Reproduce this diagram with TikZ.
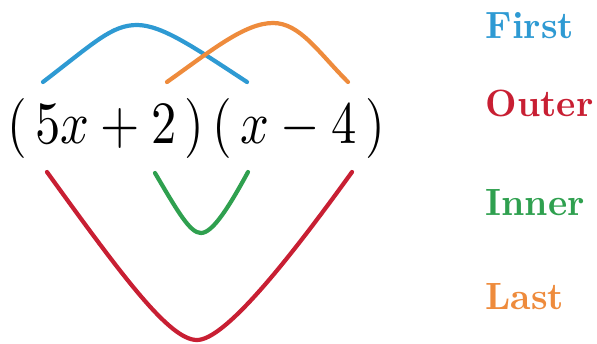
\documentclass[tikz,border=0pt]{standalone}
\usepackage{amsmath}
\usepackage{xcolor}
\usepackage{tikz}
\usetikzlibrary{positioning}
\definecolor{first}{HTML}{2E9AD3}
\definecolor{outer}{HTML}{C81F33}
\definecolor{inner}{HTML}{2FA04F}
\definecolor{last}{HTML}{EE8B3C}
\begin{document}
\begin{tikzpicture}[x=1pt, y=-1pt,
  arc/.style={line width=4.2pt, line cap=round},
  lbl/.style={anchor=west, inner sep=0pt, xscale=3.65, yscale=3.8, font=\bfseries}]
\useasboundingbox (0,0) rectangle (597,343);
% expression
\node[inner sep=0pt, xscale=5.05, yscale=6] (expr) at (196,128) {$(\,5x+2\,)\,(\,x-4\,)$};
% curves
\draw[arc, first] (43,82) .. controls (95,42) and (112,25) .. (137,25) .. controls (162,25) and (195,48) .. (247,82);
\draw[arc, last] (167,82) .. controls (212,50) and (245,23) .. (273,23) .. controls (300,23) and (318,52) .. (348,82);
\draw[arc, inner] (155,173) .. controls (178,212) and (190,233) .. (201,233) .. controls (213,233) and (230,205) .. (248,172);
\draw[arc, outer] (47,172) .. controls (125,280) and (170,340) .. (197,340) .. controls (224,340) and (285,265) .. (352,172);
% labels
\node[lbl, text=first] (lfirst) at (485,26) {First};
\node[lbl, text=outer] (louter) at (485,103) {Outer};
\node[lbl, text=inner] (linner) at (485,203) {Inner};
\node[lbl, text=last] (llast) at (485,297) {Last};
\end{tikzpicture}
\end{document}
